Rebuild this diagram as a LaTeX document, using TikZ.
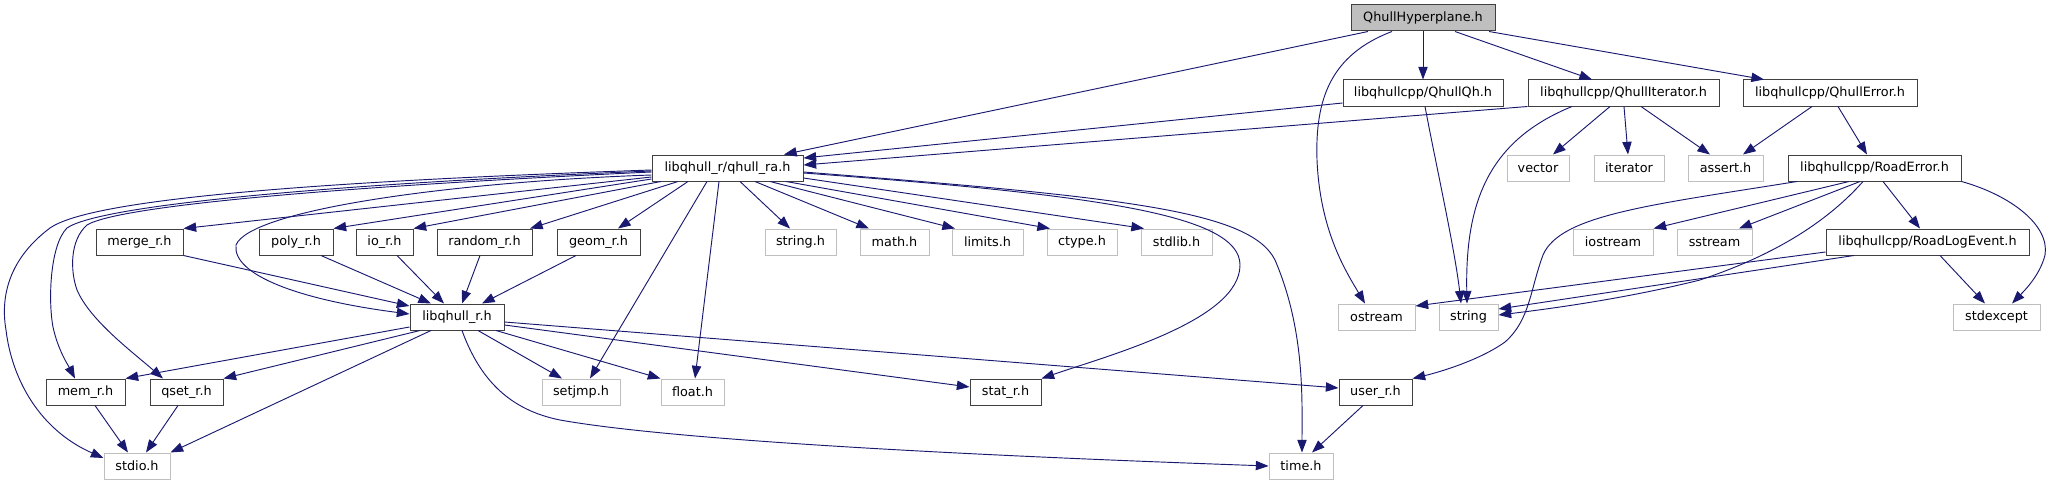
\documentclass[tikz,border=0pt]{standalone}
\usepackage{fontspec}
\setmainfont{DejaVu Sans}
\usetikzlibrary{arrows.meta,calc}
\definecolor{edgec}{HTML}{191970}
\definecolor{gborder}{HTML}{BFBFBF}
\definecolor{bborder}{HTML}{404040}
\definecolor{rootfill}{HTML}{BFBFBF}
\newcommand\nd[5]{\node[#1, minimum width=0.75pt*#4] (#2) at (#3) {#5};}
\begin{document}
\begin{tikzpicture}[x=0.75pt,y=-0.75pt,
  font=\fontsize{9.6pt}{11pt}\selectfont,
  box/.style={draw=bborder, line width=0.75pt, fill=white, minimum height=19.5pt, inner sep=0pt, anchor=center},
  sysbox/.style={box, draw=gborder},
  rootbox/.style={box, fill=rootfill},
  dep/.style={draw=edgec, line width=0.7pt, -{Triangle[length=9.5pt,width=7pt]}}]
\useasboundingbox (0,0) rectangle (2052,485);
% row 0
\nd{rootbox}{qh}{1423,18}{144}{QhullHyperplane.h}
% row 1
\nd{box}{qqh}{1423,93}{160}{libqhullcpp/QhullQh.h}
\nd{box}{qit}{1623.5,93}{191}{libqhullcpp/QhullIterator.h}
\nd{box}{qerr}{1830,93}{174}{libqhullcpp/QhullError.h}
% row 2
\nd{box}{qra}{727.5,168}{151}{libqhull\_r/qhull\_ra.h}
\nd{sysbox}{vec}{1538,168}{62}{vector}
\nd{sysbox}{itr}{1629,168}{70}{iterator}
\nd{sysbox}{ass}{1725.5,168}{75}{assert.h}
\nd{box}{rerr}{1874.5,168}{173}{libqhullcpp/RoadError.h}
% row 3
\nd{box}{merge}{139.5,242}{87}{merge\_r.h}
\nd{box}{poly}{296,242}{74}{poly\_r.h}
\nd{box}{io}{384.5,242}{57}{io\_r.h}
\nd{box}{rand}{484.5,242}{95}{random\_r.h}
\nd{box}{geom}{598.5,242}{83}{geom\_r.h}
\nd{sysbox}{strh}{800.5,242}{71}{string.h}
\nd{sysbox}{math}{894.5,242}{69}{math.h}
\nd{sysbox}{lim}{987.5,242}{71}{limits.h}
\nd{sysbox}{ctype}{1082,242}{70}{ctype.h}
\nd{sysbox}{stdlib}{1176.5,242}{71}{stdlib.h}
\nd{sysbox}{ios}{1613,242}{80}{iostream}
\nd{sysbox}{sst}{1714.5,242}{75}{sstream}
\nd{box}{rle}{1927.5,242}{203}{libqhullcpp/RoadLogEvent.h}
% row 4
\nd{box}{lib}{457,317}{94}{libqhull\_r.h}
\nd{sysbox}{ost}{1376.5,317}{77}{ostream}
\nd{sysbox}{str}{1468.5,317}{59}{string}
\nd{sysbox}{stdex}{1996.5,317}{87}{stdexcept}
% row 5
\nd{box}{mem}{85.5,392}{79}{mem\_r.h}
\nd{box}{qset}{186.5,392}{73}{qset\_r.h}
\nd{sysbox}{setj}{581,392}{78}{setjmp.h}
\nd{sysbox}{flt}{692.5,392}{63}{float.h}
\nd{box}{stat}{1005.5,392}{71}{stat\_r.h}
\nd{box}{user}{1375.5,392}{73}{user\_r.h}
% row 6
\nd{sysbox}{stdio}{137,466}{66}{stdio.h}
\nd{sysbox}{time}{1301,466}{64}{time.h}

% QhullHyperplane.h
\draw[dep] (qh.south -| 1368,0) -- (qra.north -| 784,0);
\draw[dep] (qh.south -| 1392,0) .. controls (1330,55) and (1315,100) .. (1317,160)
  .. controls (1320,230) and (1345,270) .. (ost.north -| 1365,0);
\draw[dep] (qh.south) -- (qqh.north);
\draw[dep] (qh.south -| 1455,0) -- (qit.north -| 1592,0);
\draw[dep] (qh.south -| 1489,0) -- (qerr.north -| 1764,0);
% QhullQh.h
\draw[dep] (qqh.west |- 0,103) -- (qra.east |- 0,158);
\draw[dep] (qqh.south -| 1425,0) .. controls (1435,160) and (1455,250) .. (str.north -| 1461,0);
% QhullIterator.h
\draw[dep] (qit.south west) -- (qra.east |- 0,165);
\draw[dep] (qit.south -| 1572,0) .. controls (1490,140) and (1465,200) .. (str.north -| 1467,0);
\draw[dep] (qit.south -| 1610,0) -- (vec.north -| 1553,0);
\draw[dep] (qit.south -| 1624,0) -- (itr.north -| 1628,0);
\draw[dep] (qit.south -| 1641,0) -- (ass.north -| 1710,0);
% QhullError.h
\draw[dep] (qerr.south -| 1812,0) -- (ass.north -| 1743,0);
\draw[dep] (qerr.south -| 1838,0) -- (rerr.north -| 1867,0);
% RoadError.h
\draw[dep] (rerr.south -| 1797,0) .. controls (1650,205) and (1560,215) .. (1543,255)
  .. controls (1530,290) and (1530,320) .. (1505,342)
  .. controls (1480,360) and (1440,372) .. (user.north east);
\draw[dep] (rerr.south -| 1863,0) .. controls (1820,230) and (1760,260) .. (1700,280)
  .. controls (1620,300) and (1540,310) .. (str.east |- 0,315);
\draw[dep] (rerr.south -| 1849,0) -- (ios.north east);
\draw[dep] (rerr.south -| 1860,0) -- (sst.north -| 1739,0);
\draw[dep] (rerr.south -| 1883,0) -- (rle.north -| 1920,0);
\draw[dep] (rerr.south east) .. controls (2010,195) and (2050,225) .. (2045,255)
  .. controls (2040,275) and (2025,290) .. (stdex.north -| 2012,0);
% RoadLogEvent.h
\draw[dep] (rle.west |- 0,252) -- (ost.east |- 0,306);
\draw[dep] (rle.south -| 1854,0) -- (str.east |- 0,309);
\draw[dep] (rle.south -| 1940,0) -- (stdex.north -| 1985,0);
% libqhull_r/qhull_ra.h
\draw[dep] (qra.west |- 0,170) .. controls (300,182) and (90,200) .. (50,228)
  .. controls (10,258) and (0,295) .. (6,330)
  .. controls (12,380) and (40,430) .. (stdio.west |- 0,458);
\draw[dep] (qra.west |- 0,171) .. controls (330,184) and (100,205) .. (67,228)
  .. controls (50,245) and (48,300) .. (53,327)
  .. controls (58,350) and (68,365) .. (mem.north -| 75,0);
\draw[dep] (qra.west |- 0,172) .. controls (350,186) and (120,205) .. (87,225)
  .. controls (70,240) and (70,270) .. (77,290)
  .. controls (90,320) and (130,350) .. (qset.north -| 163,0);
\draw[dep] (qra.west |- 0,175) .. controls (450,182) and (250,210) .. (236,245)
  .. controls (232,275) and (300,300) .. (lib.west |- 0,314);
\draw[dep] (qra.west |- 0,177) -- (merge.north east);
\draw[dep] (qra.west |- 0,179) -- (poly.north east);
\draw[dep] (qra.south -| 661,0) -- (io.north east);
\draw[dep] (qra.south -| 678,0) -- (rand.north -| 530,0);
\draw[dep] (qra.south -| 688,0) -- (geom.north -| 618,0);
\draw[dep] (qra.south -| 707,0) -- (setj.north -| 590,0);
\draw[dep] (qra.south -| 719,0) -- (flt.north -| 695,0);
\draw[dep] (qra.south -| 740,0) -- (strh.north -| 790,0);
\draw[dep] (qra.south -| 755,0) -- (math.north -| 869,0);
\draw[dep] (qra.south -| 770,0) -- (lim.north -| 955,0);
\draw[dep] (qra.south -| 786,0) -- (ctype.north -| 1050,0);
\draw[dep] (qra.east |- 0,178) -- (stdlib.north -| 1144,0);
\draw[dep] (qra.east |- 0,173) .. controls (1100,195) and (1240,215) .. (1240,265)
  .. controls (1240,320) and (1110,355) .. (stat.north east);
\draw[dep] (qra.east |- 0,172) .. controls (1120,197) and (1250,210) .. (1275,260)
  .. controls (1305,330) and (1302,400) .. (time.north -| 1302,0);
% merge, poly, io, random, geom -> libqhull_r.h
\draw[dep] (merge.south east) -- (lib.west |- 0,306);
\draw[dep] (poly.south -| 321,0) -- (lib.north -| 431,0);
\draw[dep] (io.south -| 397,0) -- (lib.north -| 444,0);
\draw[dep] (rand.south -| 480,0) -- (lib.north -| 462,0);
\draw[dep] (geom.south -| 576,0) -- (lib.north -| 482,0);
% libqhull_r.h
\draw[dep] (lib.west |- 0,327) -- (mem.north east);
\draw[dep] (lib.south -| 420,0) -- (qset.north east);
\draw[dep] (lib.south -| 431,0) -- (stdio.north east);
\draw[dep] (lib.south -| 478,0) -- (setj.north -| 562,0);
\draw[dep] (lib.south -| 496,0) -- (flt.north west);
\draw[dep] (lib.east |- 0,325) -- (stat.west |- 0,387);
\draw[dep] (lib.east |- 0,322) -- (user.west |- 0,388);
\draw[dep] (lib.south -| 462,0) .. controls (480,380) and (510,410) .. (560,420)
  .. controls (700,445) and (1100,460) .. (time.west |- 0,466);
% mem, qset, user
\draw[dep] (mem.south -| 95,0) -- (stdio.north -| 128,0);
\draw[dep] (qset.south -| 178,0) -- (stdio.north -| 146,0);
\draw[dep] (user.south -| 1363,0) -- (time.north -| 1312,0);
\end{tikzpicture}
\end{document}
